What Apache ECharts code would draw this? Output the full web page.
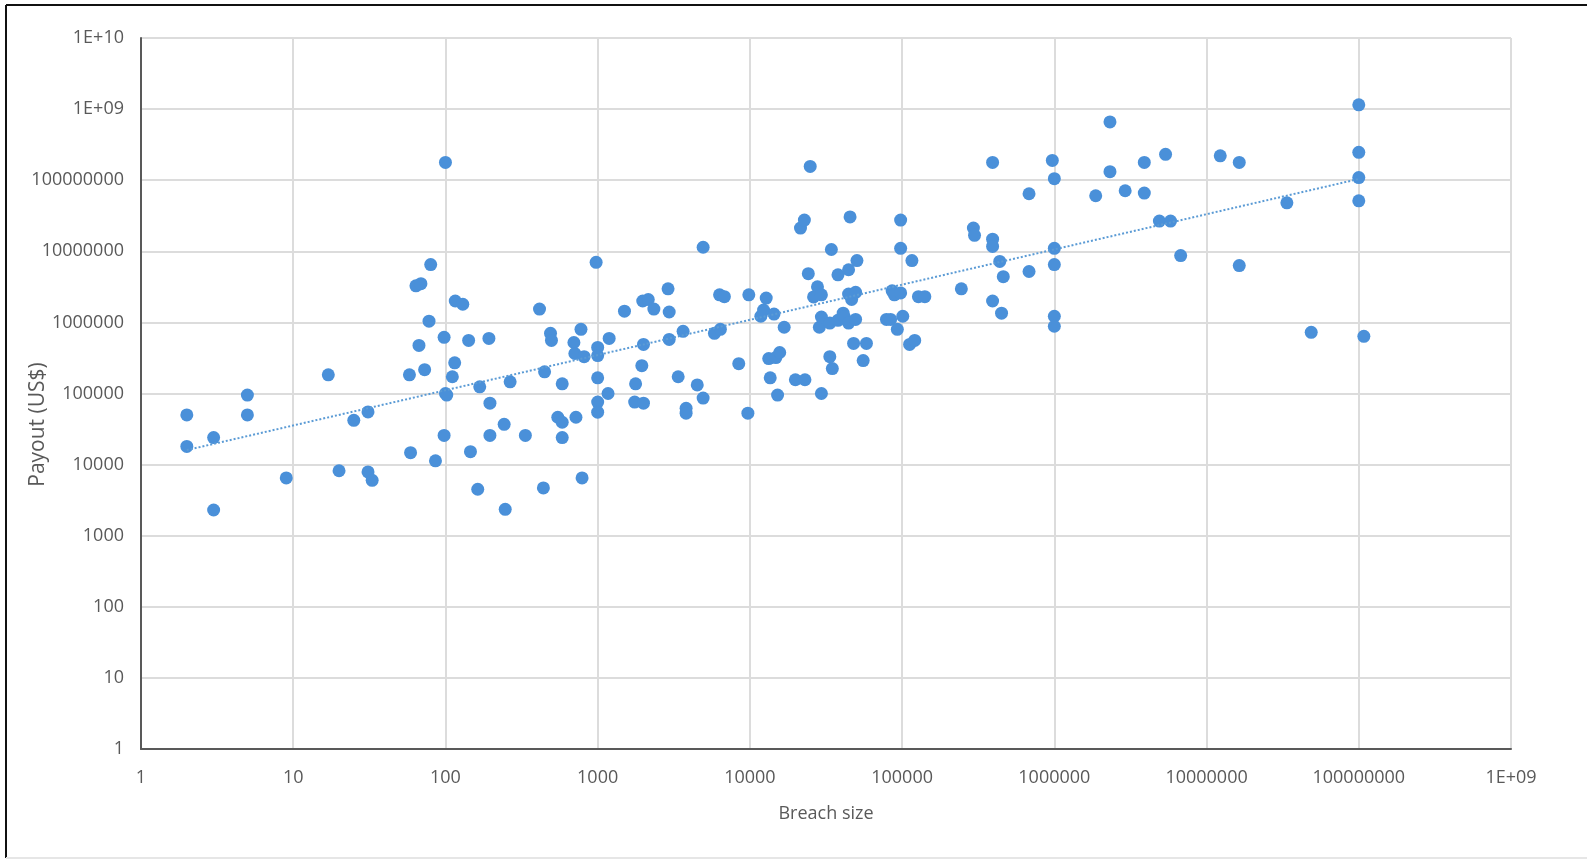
<!DOCTYPE html>
<html>
<head>
<meta charset="utf-8">
<style>
  html, body { margin: 0; padding: 0; background: #ffffff; }
  #chart { width: 1587px; height: 860px; }
</style>
<script src="https://cdn.jsdelivr.net/npm/echarts@6/dist/echarts.min.js"></script>
</head>
<body>
<div id="chart"></div>
<script>
const breachSize = [
  2, 2, 3, 3, 5, 5, 9, 17, 20, 25, 31, 31, 33, 58, 59, 64, 69, 80, 78, 67,
  73, 86, 100, 98, 100, 102, 98, 116, 130, 115, 111, 142, 146, 168, 163, 193, 196, 196, 243, 247,
  266, 335, 415, 448, 440, 490, 497, 547, 585, 585, 585, 698, 708, 720, 777, 815, 790, 977, 1000, 1000,
  1000, 1000, 1000, 1190, 1170, 1500, 1775, 1750, 1977, 2150, 2000, 1950, 2000, 2340, 2900, 2950, 2950, 3380, 3640, 3810,
  3810, 4510, 4930, 4930, 5850, 6400, 6320, 6800, 8450, 9840, 9700, 11800, 12300, 12800, 13300, 13600, 14400, 14800, 15200, 15700,
  16800, 19900, 23000, 21500, 22800, 24200, 24900, 26200, 27800, 29500, 28600, 29500, 29500, 33500, 33500, 34300, 34800, 37900, 37900, 41000,
  41700, 44500, 45500, 44500, 44500, 46600, 49500, 50500, 49500, 48000, 55500, 58300, 78900, 84000, 86000, 89000, 97800, 97800, 97800, 101000,
  93000, 116000, 112000, 121000, 128000, 141000, 245000, 294000, 299000, 393000, 393000, 393000, 393000, 438000, 462000, 450000, 682000, 682000, 970000, 1000000,
  1000000, 1000000, 1000000, 1000000, 1870000, 2320000, 2320000, 2920000, 3900000, 3900000, 5380000, 4900000, 5800000, 6760000, 12300000, 16400000, 16400000, 33700000, 48700000, 100000000,
  100000000, 100000000, 100000000, 108000000
];
const payout = [
  50000, 18000, 24000, 2300, 95000, 50000, 6500, 183000, 8200, 42000, 55000, 7900, 6000, 183000, 14700, 3270000, 3500000, 6500000, 1040000, 474000,
  216000, 11300, 178000000, 617000, 100000, 95000, 25700, 2000000, 1800000, 270000, 172000, 558000, 15200, 124000, 4500, 596000, 73000, 25700, 36800, 2350,
  146000, 25700, 1540000, 202000, 4700, 702000, 558000, 46300, 39400, 24000, 137000, 522000, 365000, 46300, 800000, 330000, 6500, 7000000, 444000, 341000,
  166000, 75700, 54600, 596000, 100000, 1440000, 137000, 75700, 2000000, 2100000, 490000, 246000, 73000, 1540000, 2970000, 1400000, 577000, 172000, 750000, 62000,
  52800, 132000, 86300, 11400000, 702000, 800000, 2440000, 2300000, 263000, 2440000, 52800, 1220000, 1490000, 2200000, 310000, 166000, 1310000, 320000, 95000, 377000,
  855000, 156000, 156000, 21200000, 27500000, 4850000, 156000000, 2280000, 3160000, 2440000, 855000, 1190000, 100000, 977000, 330000, 10600000, 224000, 1070000, 4670000, 1350000,
  1190000, 5500000, 30400000, 2500000, 977000, 2100000, 2650000, 7400000, 1100000, 506000, 290000, 506000, 1100000, 1100000, 2780000, 2440000, 27500000, 11000000, 2600000, 1220000,
  800000, 7400000, 490000, 558000, 2300000, 2300000, 2970000, 21200000, 16800000, 178000000, 14800000, 11700000, 2000000, 7200000, 4400000, 1350000, 64500000, 5200000, 190000000, 105000000,
  11000000, 6500000, 1220000, 883000, 60400000, 660000000, 132000000, 71000000, 178000000, 66000000, 231000000, 26600000, 26600000, 8700000, 220000000, 178000000, 6300000, 48000000, 724000, 1150000000,
  247000000, 109000000, 51300000, 637000
];
// Trendline end points
const trendX = [2, 100000000];
const trendY = [16000, 104000000];

const xTickLabels = ['1', '10', '100', '1000', '10000', '100000', '1000000', '10000000', '100000000', '1E+09'];
const yTickLabels = ['1', '10', '100', '1000', '10000', '100000', '1000000', '10000000', '100000000', '1E+09', '1E+10'];

const points = breachSize.map((x, i) => [x, payout[i]]);
const trend = trendX.map((x, i) => [x, trendY[i]]);

function labelFor(list) {
  return function (v) {
    const k = Math.round(Math.log10(v));
    return list[k] !== undefined ? list[k] : '';
  };
}

const chart = echarts.init(document.getElementById('chart'), null, { renderer: 'canvas' });
const textColor = '#595959';
const fontFam = '"Open Sans", "Liberation Sans", sans-serif';

chart.setOption({
  backgroundColor: '#ffffff',
  animation: false,
  grid: { left: 141, right: 76, top: 38, bottom: 111, containLabel: false, outerBoundsMode: 'none' },
  xAxis: {
    type: 'log', logBase: 10, min: 1, max: 1e9, interval: 1,
    name: 'Breach size', nameLocation: 'middle', nameGap: 56, nameMoveOverlap: false,
    nameTextStyle: { color: textColor, fontSize: 18, fontFamily: fontFam },
    axisLine: { show: true, onZero: false, lineStyle: { color: '#595959', width: 2 } },
    axisTick: { show: false },
    axisLabel: { color: textColor, fontSize: 18, fontFamily: fontFam, margin: 20, interval: 0, hideOverlap: false, formatter: labelFor(xTickLabels), showMinLabel: true, showMaxLabel: true },
    splitLine: { show: true, interval: 0, lineStyle: { color: '#dcdcdc', width: 2 } },
    minorTick: { show: false }
  },
  yAxis: {
    type: 'log', logBase: 10, min: 1, max: 1e10, interval: 1,
    name: 'Payout (US$)', nameLocation: 'middle', nameGap: 92, nameRotate: 90, nameMoveOverlap: false,
    nameTextStyle: { color: textColor, fontSize: 21, fontFamily: fontFam, padding: [0, 62, 0, 0] },
    axisLine: { show: true, onZero: false, lineStyle: { color: '#595959', width: 2 } },
    axisTick: { show: false },
    axisLabel: { color: textColor, fontSize: 18, fontFamily: fontFam, margin: 17, interval: 0, hideOverlap: false, formatter: labelFor(yTickLabels), showMinLabel: true, showMaxLabel: true, padding: [3, 0, 0, 0] },
    splitLine: { show: true, interval: 0, lineStyle: { color: '#dcdcdc', width: 2 } }
  },
  series: [
    {
      type: 'scatter',
      data: points,
      symbol: 'circle',
      symbolSize: 13,
      itemStyle: { color: '#4A90D9', opacity: 1 },
      z: 2
    },
    {
      type: 'line',
      data: trend,
      symbol: 'none',
      lineStyle: { color: '#5B9BD5', width: 2, type: [2, 2] },
      z: 3,
      silent: true
    }
  ],
  graphic: [
    { type: 'line', shape: { x1: 6, y1: 5, x2: 1587, y2: 5 }, style: { stroke: '#111111', lineWidth: 2 } },
    { type: 'line', shape: { x1: 6, y1: 5, x2: 6, y2: 858 }, style: { stroke: '#111111', lineWidth: 2 } },
    { type: 'line', shape: { x1: 6, y1: 858, x2: 1587, y2: 858 }, style: { stroke: '#e6e6e6', lineWidth: 2 } }
  ]
});
</script>
</body>
</html>
